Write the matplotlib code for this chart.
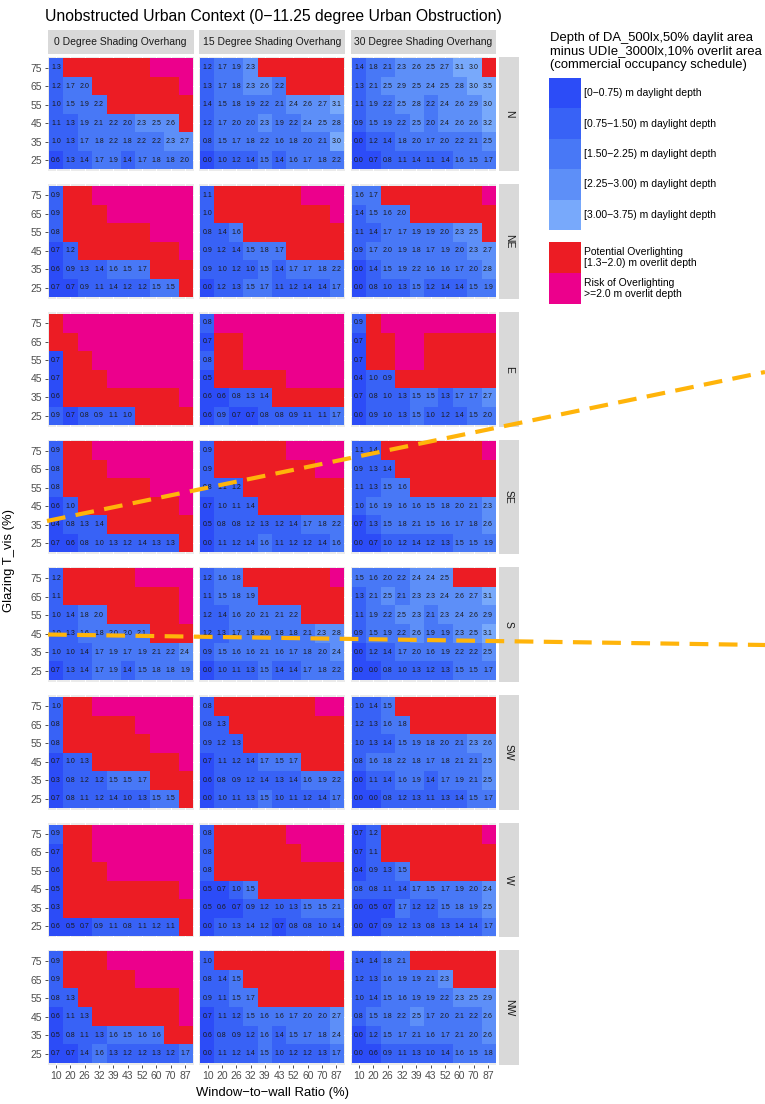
import matplotlib.pyplot as plt
from matplotlib.patches import Rectangle
import numpy as np

plt.rcParams['font.family'] = ['Liberation Sans', 'DejaVu Sans']

wwr_labels = ['10', '20', '26', '32', '39', '43', '52', '60', '70', '87']
tvis_labels = ['25', '35', '45', '55', '65', '75']
overhangs = ['0 Degree Shading Overhang', '15 Degree Shading Overhang',
             '30 Degree Shading Overhang']
orientations = ['N', 'NE', 'E', 'SE', 'S', 'SW', 'W', 'NW']

# daylight depth in m, one string per T_vis row (75 at top, 25 at bottom)
# R = potential overlighting, M = risk of overlighting
N = [
    ["1.3 R R R R R R M M M",
     "1.2 1.7 2.0 R R R R R R M",
     "1.0 1.5 1.9 2.2 R R R R R R",
     "1.1 1.3 1.9 2.1 2.2 2.0 2.3 2.5 2.6 R",
     "1.0 1.3 1.7 1.8 2.2 1.8 2.2 2.2 2.3 2.7",
     "0.6 1.3 1.4 1.7 1.9 1.4 1.7 1.8 1.8 2.0"],
    ["1.2 1.7 1.9 2.3 R R R R R R",
     "1.3 1.7 1.8 2.3 2.6 2.2 R R R R",
     "1.4 1.5 1.8 1.9 2.2 2.1 2.4 2.6 2.7 3.1",
     "1.2 1.7 2.0 2.0 2.3 1.9 2.2 2.4 2.5 2.8",
     "0.8 1.5 1.7 1.8 2.2 1.6 1.8 2.0 2.1 3.0",
     "0.0 1.0 1.2 1.4 1.5 1.4 1.6 1.7 1.8 2.2"],
    ["1.4 1.8 2.1 2.3 2.6 2.5 2.7 3.1 3.0 R",
     "1.3 2.1 2.5 2.9 2.5 2.4 2.5 2.8 3.0 3.5",
     "1.1 1.9 2.2 2.5 2.8 2.2 2.4 2.6 2.9 3.0",
     "0.9 1.5 1.9 2.2 2.5 2.0 2.4 2.6 2.6 3.2",
     "0.0 1.2 1.4 1.8 2.0 1.7 2.0 2.2 2.1 2.5",
     "0.0 0.7 0.8 1.1 1.4 1.1 1.4 1.6 1.5 1.7"],
]
NE = [
    ["0.9 R R M M M M M M M",
     "0.9 R R R M M M M M M",
     "0.8 R R R R R R M M M",
     "0.7 1.2 R R R R R R R M",
     "0.6 0.9 1.3 1.4 1.6 1.5 1.7 R R R",
     "0.7 0.7 0.9 1.1 1.4 1.2 1.2 1.5 1.5 R"],
    ["1.1 R R R R R R M M M",
     "1.0 R R R R R R R R M",
     "0.8 1.4 1.6 R R R R R R R",
     "0.9 1.2 1.4 1.5 1.8 1.7 R R R R",
     "0.9 1.0 1.2 1.0 1.5 1.4 1.7 1.7 1.8 2.2",
     "0.0 1.2 1.3 1.5 1.7 1.1 1.2 1.4 1.4 1.7"],
    ["1.6 1.7 R R R R R R R M",
     "1.4 1.5 1.6 2.0 R R R R R R",
     "1.1 1.4 1.7 1.7 1.9 1.9 2.0 2.3 2.5 R",
     "0.9 1.7 2.0 1.9 1.8 1.7 1.9 2.0 2.3 2.7",
     "0.0 1.4 1.5 1.9 2.2 1.6 1.6 1.7 2.0 2.8",
     "0.0 0.8 1.0 1.3 1.5 1.2 1.4 1.4 1.5 1.9"],
]
E = [
    ["R M M M M M M M M M",
     "R R M M M M M M M M",
     "0.7 R R M M M M M M M",
     "0.7 R R R M M M M M M",
     "0.6 R R R R R R R R M",
     "0.9 0.7 0.8 0.9 1.1 1.0 R R R R"],
    ["0.8 M M M M M M M M M",
     "0.7 R R M M M M M M M",
     "0.8 R R M M M M M M M",
     "0.5 R R R R R M M M M",
     "0.6 0.6 0.8 1.3 1.4 R R R R R",
     "0.6 0.9 0.7 0.7 0.8 0.8 0.9 1.1 1.1 1.7"],
    ["0.9 R M M M M M M M M",
     "0.7 R R M M R R R R R",
     "0.7 R R M M R R R R R",
     "0.4 1.0 0.9 R R R R R R R",
     "0.7 0.8 1.0 1.3 1.5 1.5 1.3 1.7 1.7 2.7",
     "0.0 0.9 1.0 1.3 1.5 1.0 1.2 1.4 1.5 2.0"],
]
SE = [
    ["0.9 R R M M M M M M M",
     "0.8 R R R M M M M M M",
     "0.8 R R R R R R M M M",
     "0.6 1.0 R R R R R R R M",
     "0.4 0.8 1.3 1.4 R R R R R R",
     "0.7 0.6 0.8 1.0 1.3 1.2 1.4 1.3 1.3 R"],
    ["0.9 R R R R R M M M M",
     "0.9 R R R R R R R M M",
     "0.8 1.1 1.2 R R R R R R R",
     "0.7 1.0 1.1 1.4 R R R R R R",
     "0.5 0.8 0.8 1.2 1.3 1.2 1.4 1.7 1.8 2.2",
     "0.0 1.1 1.2 1.4 1.6 1.1 1.2 1.2 1.4 1.6"],
    ["1.1 1.4 R R R R R R R M",
     "0.9 1.3 1.4 R R R R R R R",
     "1.1 1.3 1.5 1.6 R R R R R R",
     "1.0 1.6 1.9 1.6 1.6 1.5 1.8 2.0 2.1 2.3",
     "0.7 1.3 1.5 1.8 2.1 1.5 1.6 1.7 1.8 2.6",
     "0.0 0.7 1.0 1.2 1.4 1.2 1.3 1.5 1.5 1.9"],
]
S = [
    ["1.2 R R R R R M M M M",
     "1.1 R R R R R R R R M",
     "1.0 1.4 1.8 2.0 R R R R R M",
     "1.0 1.3 1.6 1.8 2.0 2.0 2.1 R R R",
     "1.0 1.0 1.4 1.7 1.9 1.7 1.9 2.1 2.2 2.4",
     "0.7 1.3 1.4 1.7 1.9 1.4 1.5 1.8 1.8 1.9"],
    ["1.2 1.6 1.8 R R R R R R M",
     "1.1 1.5 1.8 1.9 R R R R R R",
     "1.2 1.4 1.6 2.0 2.1 2.1 2.2 R R R",
     "1.2 1.3 1.7 1.8 2.0 1.8 1.8 2.1 2.3 2.8",
     "0.9 1.5 1.6 1.6 2.1 1.6 1.7 1.8 2.0 2.4",
     "0.0 1.0 1.1 1.3 1.5 1.4 1.4 1.7 1.8 2.2"],
    ["1.5 1.6 2.0 2.2 2.4 2.4 2.5 R R R",
     "1.3 2.1 2.5 2.1 2.3 2.3 2.4 2.6 2.7 3.1",
     "1.1 1.9 2.2 2.5 2.3 2.1 2.3 2.4 2.6 2.9",
     "0.9 1.5 1.9 2.2 2.6 1.9 1.9 2.3 2.5 3.1",
     "0.0 1.2 1.4 1.7 2.0 1.6 1.9 2.2 2.2 2.5",
     "0.0 0.0 0.8 1.0 1.3 1.2 1.3 1.5 1.5 1.7"],
]
SW = [
    ["1.0 R R M M M M M M M",
     "0.8 R R R R R M M M M",
     "0.8 R R R R R R M M M",
     "0.7 1.0 1.3 R R R R R R M",
     "0.3 0.8 1.2 1.2 1.5 1.5 1.7 R R R",
     "0.7 0.8 1.1 1.2 1.4 1.0 1.3 1.5 1.5 R"],
    ["0.8 R R R R R R R M M",
     "0.8 1.3 R R R R R R R R",
     "0.9 1.2 1.3 R R R R R R R",
     "0.7 1.1 1.2 1.4 1.7 1.5 1.7 R R R",
     "0.6 0.8 0.9 1.2 1.4 1.3 1.4 1.6 1.9 2.2",
     "0.0 1.0 1.1 1.3 1.5 1.0 1.1 1.2 1.4 1.7"],
    ["1.0 1.4 1.5 R R R R R R R",
     "1.2 1.3 1.6 1.8 R R R R R R",
     "1.0 1.3 1.4 1.5 1.9 1.8 2.0 2.1 2.3 2.6",
     "0.8 1.6 1.8 2.2 1.8 1.7 1.8 2.1 2.1 2.5",
     "0.0 1.1 1.4 1.6 1.9 1.4 1.7 1.9 2.1 2.5",
     "0.0 0.0 0.8 1.2 1.3 1.1 1.3 1.4 1.5 1.7"],
]
W_ = [
    ["0.9 R R M M M M M M M",
     "0.7 R R M M M M M M M",
     "0.6 R R R M M M M M M",
     "0.5 R R R R R R R R M",
     "0.3 R R R R R R R R R",
     "0.6 0.5 0.7 0.9 1.1 0.8 1.1 1.2 1.1 R"],
    ["0.8 R R R R R M M M M",
     "0.8 R R R R R R M M M",
     "0.8 R R R R R R R R R",
     "0.5 0.7 1.0 1.5 R R R R R R",
     "0.5 0.6 0.7 0.9 1.2 1.0 1.3 1.5 1.5 2.1",
     "0.0 1.0 1.3 1.4 1.2 0.7 0.8 0.8 1.0 1.4"],
    ["0.7 1.2 R R R R R R R M",
     "0.7 1.1 R R R R R R R R",
     "0.4 0.9 1.3 1.5 R R R R R R",
     "0.8 0.8 1.1 1.4 1.7 1.5 1.7 1.9 2.0 2.4",
     "0.0 0.5 0.7 1.7 1.2 1.2 1.5 1.8 1.9 2.5",
     "0.0 0.7 0.9 1.2 1.3 0.8 1.3 1.4 1.4 1.7"],
]
NW = [
    ["0.9 R R R M M M M M M",
     "0.9 R R R R R M M M M",
     "0.8 1.3 R R R R R R R M",
     "0.6 1.1 1.3 R R R R R R M",
     "0.5 0.8 1.1 1.3 1.6 1.5 1.6 1.6 R R",
     "0.7 0.7 1.4 1.6 1.3 1.2 1.2 1.3 1.2 1.7"],
    ["1.0 R R R R R R R R M",
     "0.8 1.4 1.5 R R R R R R R",
     "0.9 1.1 1.5 1.7 R R R R R R",
     "0.7 1.1 1.2 1.5 1.6 1.6 1.7 2.0 2.0 2.7",
     "0.6 0.8 0.9 1.2 1.6 1.4 1.5 1.7 1.8 2.4",
     "0.0 1.1 1.2 1.4 1.5 1.0 1.2 1.2 1.3 1.7"],
    ["1.4 1.4 1.8 2.1 R R R R R R",
     "1.2 1.3 1.6 1.9 1.9 2.1 2.3 R R R",
     "1.0 1.4 1.5 1.6 1.9 1.9 2.2 2.3 2.5 2.9",
     "0.8 1.5 1.8 2.2 2.5 1.7 2.0 2.1 2.2 2.6",
     "0.0 1.2 1.5 1.7 2.1 1.6 1.7 2.1 2.0 2.6",
     "0.0 0.6 0.9 1.1 1.3 1.0 1.4 1.6 1.5 1.8"],
]
grids = {'N': N, 'NE': NE, 'E': E, 'SE': SE, 'S': S, 'SW': SW, 'W': W_, 'NW': NW}

depth_edges = [0, 0.75, 1.5, 2.25, 3.0, 3.75]
depth_colors = ['#2C4CF7', '#3862F6', '#4878F6', '#5D8FF8', '#78A9FB']
depth_labels = ['[0\u22120.75) m daylight depth', '[0.75\u22121.50) m daylight depth',
                '[1.50\u22122.25) m daylight depth', '[2.25\u22123.00) m daylight depth',
                '[3.00\u22123.75) m daylight depth']
over_colors = {'R': '#EC1C24', 'M': '#EC008C'}
over_labels = ['Potential Overlighting\n[1.3\u22122.0) m overlit depth',
               'Risk of Overlighting\n>=2.0 m overlit depth']

# dashed highlight lines drawn over the figure (pixel coords)
highlight_lines = [((47, 521), (765, 372)), ((48, 634.5), (765, 645))]


def cell_colour(tok):
    if tok in over_colors:
        return over_colors[tok]
    k = np.searchsorted(depth_edges, float(tok), side='right') - 1
    return depth_colors[min(k, 4)]


FW, FH = 765, 1104
fig = plt.figure(figsize=(FW / 100, FH / 100), dpi=100)


def box(x0, y0, w, h):
    return [x0 / FW, 1 - (y0 + h) / FH, w / FW, h / FH]


col_left = [47.5, 199, 350.5]
pw, ph = 146, 114.7
top0, step = 56.5, 127.7

for r, orient in enumerate(orientations):
    top = top0 + r * step
    for c in range(3):
        ax = fig.add_axes(box(col_left[c], top, pw, ph))
        ax.set_facecolor('#EBEBEB')
        rows = grids[orient][c][::-1]
        toks = [line.split() for line in rows]
        rgb = np.array([[plt.matplotlib.colors.to_rgb(cell_colour(t)) for t in row] for row in toks])
        ax.imshow(rgb, extent=(-0.5, 9.5, -0.5, 5.5), origin='lower', aspect='auto',
                  interpolation='nearest', zorder=2)
        for i, row in enumerate(toks):
            for j, t in enumerate(row):
                if t not in over_colors:
                    ax.text(j, i, t, ha='center', va='center', fontsize=5, color='#1A1A1A', zorder=3)
        ax.set_xlim(-0.6, 9.6)
        ax.set_ylim(-0.6, 5.6)
        ax.set_xticks(range(10))
        ax.set_yticks(range(6))
        ax.grid(True, color='white', lw=0.7)
        ax.set_axisbelow(True)
        for s in ax.spines.values():
            s.set_visible(False)
        ax.tick_params(length=2.5, width=0.6, color='#333333', labelsize=7.5,
                       labelcolor='#4D4D4D', pad=1.5)
        if r == len(orientations) - 1:
            ax.set_xticklabels(wwr_labels)
        else:
            ax.tick_params(axis='x', length=0, labelbottom=False)
        if c == 0:
            ax.set_yticklabels(tvis_labels)
        else:
            ax.tick_params(axis='y', length=0, labelleft=False)

        if r == 0:
            sa = fig.add_axes(box(col_left[c], 30, pw, 23.5))
            sa.set_facecolor('#D9D9D9')
            sa.set_xticks([]); sa.set_yticks([])
            for s in sa.spines.values():
                s.set_visible(False)
            sa.text(0.5, 0.5, overhangs[c], ha='center', va='center', fontsize=7.5,
                    color='#1A1A1A', transform=sa.transAxes)
    sa = fig.add_axes(box(499, top, 19.5, ph))
    sa.set_facecolor('#D9D9D9')
    sa.set_xticks([]); sa.set_yticks([])
    for s in sa.spines.values():
        s.set_visible(False)
    sa.text(0.5, 0.5, orient, ha='center', va='center', fontsize=7.5, rotation=-90,
            color='#1A1A1A', transform=sa.transAxes)

# titles
fig.text(45 / FW, 1 - 17 / FH, 'Unobstructed Urban Context (0\u221211.25 degree Urban Obstruction)',
         ha='left', va='center', fontsize=11.3)
fig.text(9 / FW, 1 - 561 / FH, 'Glazing T_vis (%)', rotation=90, ha='center', va='center',
         fontsize=9.4)
fig.text(272 / FW, 1 - 1093 / FH, 'Window\u2212to\u2212wall Ratio (%)', ha='center', va='center',
         fontsize=9.4)

# overlay for legend and highlight lines
ov = fig.add_axes([0, 0, 1, 1], zorder=10)
ov.set_xlim(0, FW)
ov.set_ylim(FH, 0)
ov.axis('off')
ov.patch.set_alpha(0)

for k, line in enumerate(['Depth of DA_500lx,50% daylit area',
                          'minus UDIe_3000lx,10% overlit area',
                          '(commercial occupancy schedule)']):
    ov.text(550, 38 + k * 13.5, line, ha='left', va='center', fontsize=9.4)

key_h = 30.4
for k, (col, lab) in enumerate(zip(depth_colors, depth_labels)):
    y0 = 78 + k * key_h
    ov.add_patch(Rectangle((549.5, y0), 31.5, key_h, facecolor=col, edgecolor='none'))
    ov.text(584, y0 + key_h / 2, lab, ha='left', va='center', fontsize=7.5)

for k, tok in enumerate(['R', 'M']):
    y0 = 242 + k * 31
    ov.add_patch(Rectangle((549.5, y0), 31.5, 31, facecolor=over_colors[tok], edgecolor='none'))
    ov.text(584, y0 + 15.5, over_labels[k], ha='left', va='center', fontsize=7.5,
            linespacing=1.05)

for (x0, y0), (x1, y1) in highlight_lines:
    ov.plot([x0, x1], [y0, y1], color='#FFB40A', lw=3, ls=(0, (4.5, 2.5)),
            solid_capstyle='butt', dash_capstyle='butt')

fig.savefig('out.png', dpi=100)
